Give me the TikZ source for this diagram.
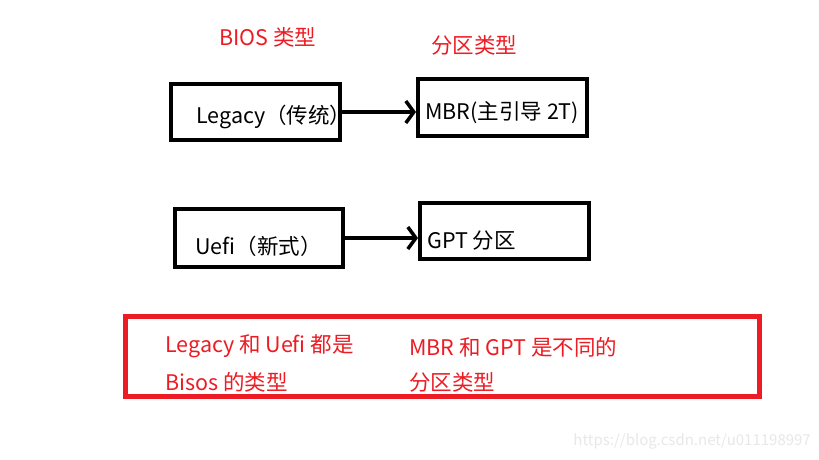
\documentclass[tikz,border=0pt]{standalone}
\usepackage{fontspec}
\setmainfont{Noto Sans CJK SC}
\usetikzlibrary{arrows.meta}
\definecolor{pred}{HTML}{ED1C24}
\definecolor{wm}{HTML}{E8E8E8}
\tikzset{
  box/.style={draw=black, line width=4pt, rectangle, inner sep=0pt},
  lbl/.style={font=\fontsize{21.5}{25}\selectfont, inner sep=0pt, anchor=west},
  rlbl/.style={lbl, text=pred},
  conn/.style={line width=3.5pt, -{Straight Barb[length=8pt,width=22pt,line width=3.5pt]}},
}
\begin{document}
\begin{tikzpicture}[x=1pt,y=-1pt]
\useasboundingbox (0,0) rectangle (819,460);
\fill[white] (0,0) rectangle (819,460);
% boxes
\node[box, minimum width=169pt, minimum height=56pt] (legacy) at (255.5,112) {};
\node[box, minimum width=169pt, minimum height=57pt] (mbr) at (502.5,107.5) {};
\node[box, minimum width=168pt, minimum height=58pt] (uefi) at (259,238) {};
\node[box, minimum width=169pt, minimum height=56pt] (gpt) at (504.5,231) {};
\node[draw=pred, line width=5pt, rectangle, inner sep=0pt, minimum width=634pt, minimum height=80pt] (note) at (442,356) {};
% labels
\node[rlbl] (tbios) at (219,37) {BIOS 类型};
\node[rlbl] (tpart) at (431,45) {分区类型};
\node[lbl] (tlegacy) at (196,117) {Legacy（传统）};
\node[lbl] (tmbr) at (425,113) {MBR(主引导 2T)};
\node[lbl] (tuefi) at (195,246) {Uefi（新式）};
\node[lbl] (tgpt) at (427,241) {GPT 分区};
\node[rlbl] (n1) at (165,346) {Legacy 和 Uefi 都是};
\node[rlbl] (n2) at (165,382) {Bisos 的类型};
\node[rlbl] (n3) at (409,347) {MBR 和 GPT 是不同的};
\node[rlbl] (n4) at (409,382) {分区类型};
\node[font=\fontsize{15}{18}\selectfont, text=wm, inner sep=0pt, anchor=east] (wmark) at (811,441) {https://blog.csdn.net/u011198997};
% connectors
\draw[conn] (legacy.east) -- (legacy.east -| mbr.west);
\draw[conn] (uefi.east) -- (uefi.east -| gpt.west);
\end{tikzpicture}
\end{document}
